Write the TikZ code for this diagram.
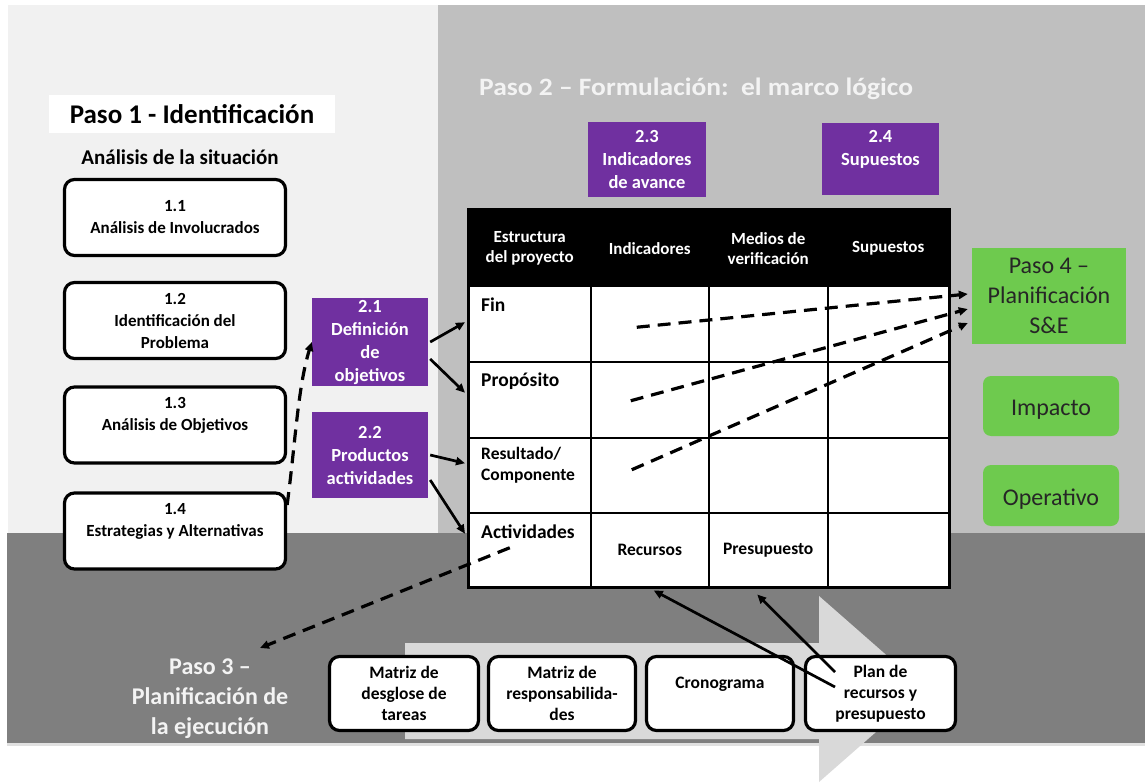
\documentclass[tikz,border=0pt]{standalone}
\usepackage{fontspec}
\usepackage{graphicx}
\setmainfont{Carlito}
\usetikzlibrary{arrows.meta,calc}
\definecolor{lightbg}{RGB}{241,241,241}
\definecolor{midbg}{RGB}{191,191,191}
\definecolor{darkbg}{RGB}{127,127,127}
\definecolor{arrowbg}{RGB}{217,217,217}
\definecolor{purp}{RGB}{112,48,160}
\definecolor{grn}{RGB}{110,202,78}
\definecolor{titlewhite}{RGB}{243,243,243}
\newcommand{\fsz}[2]{\fontsize{#1}{#2}\selectfont}
\begin{document}
\begin{tikzpicture}[x=1pt,y=-1pt,
  sitbox/.style={draw=black,line width=3.2pt,rounded corners=10pt,fill=white,minimum width=221pt,minimum height=76pt,inner sep=0pt,align=center,font=\fsz{17}{22}\bfseries},
  btmbox/.style={draw=black,line width=3.2pt,rounded corners=10pt,fill=white,minimum height=74pt,inner sep=0pt,align=center,font=\fsz{17.5}{21}\bfseries},
  purpbox/.style={fill=purp,text=white,inner sep=0pt,align=center,font=\fsz{18.5}{23}\bfseries},
  grnbox/.style={fill=grn,text=black!85,inner sep=0pt,align=center,font=\fsz{24}{30}},
  grnround/.style={grnbox,rounded corners=8pt,minimum width=136pt,text height=20pt,text depth=0.5pt},
  cell/.style={draw=black,line width=1.5pt,fill=white,inner sep=0pt,anchor=north west},
  hdr/.style={draw=black,line width=1.5pt,fill=black,text=white,inner sep=0pt,anchor=north west,align=center,minimum height=77pt,font=\fsz{17}{20}\bfseries},
  rowlbl/.style={inner sep=0pt,anchor=west,align=left},
  solidarr/.style={line width=2.7pt,-{Triangle[length=9pt,width=8pt]}},
  dasharr/.style={line width=3.2pt,dash pattern=on 13pt off 8pt,-{Triangle[length=9pt,width=8pt]}}
]
\useasboundingbox (0,0) rectangle (1145,783);
% backgrounds
\fill[white] (0,0) rectangle (1145,783);
\fill[lightbg] (8,5) rectangle (438,533);
\fill[midbg] (438,5) rectangle (1145,533);
\fill[darkbg] (7,533) rectangle (1145,743);
\fill[black!12] (7,743) rectangle (1145,746);
\fill[arrowbg] (405,643) -- (819,643) -- (819,596) -- (925,689) -- (819,782) -- (819,739) -- (405,739) -- cycle;

% Paso 1
\node[fill=white,minimum width=286pt,minimum height=38pt,inner sep=0pt,font=\fsz{27}{30}\bfseries] (p1) at (192,114) {Paso 1 - Identificación};
\node[inner sep=0pt,font=\fsz{21}{24}\bfseries] (sit) at (180,157) {Análisis de la situación};
\node[sitbox] (s11) at (175,217.5) {1.1\\Análisis de Involucrados};
\node[sitbox] (s12) at (175,320.5) {1.2\\Identificación del\\Problema};
\node[sitbox] (s13) at (175,425) {1.3\\Análisis de Objetivos\\\mbox{}};
\node[sitbox] (s14) at (175,531) {1.4\\Estrategias y Alternativas\\\mbox{}};

% Paso 2
\node[anchor=west,inner sep=0pt,text=titlewhite,font=\fsz{25}{28}\bfseries] (p2) at (479,89) {\scalebox{1.1}[1]{Paso 2 -- Formulación:\ \ el marco\ lógico}};
\node[purpbox,minimum width=116pt,minimum height=88pt] (d21) at (370,342) {2.1\\Definición\\de\\objetivos};
\node[purpbox,minimum width=116pt,minimum height=86pt] (d22) at (370,455) {2.2\\Productos\\actividades};
\node[purpbox,minimum width=118pt,minimum height=75pt] (d23) at (647,160) {2.3\\Indicadores\\de avance};
\node[purpbox,minimum width=117pt,minimum height=72pt] (d24) at (880.5,159) {2.4\\Supuestos\\\mbox{}};

% table
\node[hdr,minimum width=122pt] (h1) at (468,209) {Estructura\\del proyecto};
\node[hdr,minimum width=118pt] (h2) at (590,209) {Indicadores};
\node[hdr,minimum width=119pt] (h3) at (708,209) {Medios de\\verificación};
\node[hdr,minimum width=121pt] (h4) at (827,209) {Supuestos};
\foreach \x/\w [count=\i] in {468/122,590/118,708/119,827/121} {
  \foreach \y/\h [count=\j] in {286/75,361/76,437/75,512/74} {
    \node[cell,minimum width=\w pt,minimum height=\h pt] (c\j\i) at (\x,\y) {};
  }
}
\draw[line width=2pt] (h1.north west) rectangle (c44.south east);
\node[rowlbl,font=\fsz{19.5}{22}\bfseries] (lfin) at ($(c11.north west)+(13,19)$) {Fin};
\node[rowlbl,font=\fsz{19.5}{22}\bfseries] (lpro) at ($(c21.north west)+(13,20)$) {Propósito};
\node[rowlbl,font=\fsz{17.5}{21}\bfseries] (lres) at ($(c31.north west)+(13,28.5)$) {Resultado/\\Componente};
\node[rowlbl,font=\fsz{19.5}{22}\bfseries] (lact) at ($(c41.north west)+(13,20)$) {Actividades};
\node[inner sep=0pt,font=\fsz{17.5}{21}\bfseries] (lrec) at ($(c42.center)+(0,0)$) {Recursos};
\node[inner sep=0pt,font=\fsz{17.5}{21}\bfseries] (lpre) at ($(c43.center)+(0,0)$) {Presupuesto};

% Paso 4
\node[grnbox,minimum width=154pt,minimum height=96pt] (p4) at (1049,296) {Paso 4 --\\Planificación\\S\&E};
\node[grnround,minimum height=60pt] (imp) at (1051,406) {Impacto};
\node[grnround,minimum height=61pt] (ope) at (1051,495.5) {Operativo};

% Paso 3
\node[inner sep=0pt,align=center,text=titlewhite,font=\fsz{24}{30}\bfseries] (p3) at (210,699) {Paso 3 --\\Planificación de\\la ejecución};
\node[btmbox,minimum width=149pt] (b1) at (404,693.5) {Matriz de\\desglose de\\tareas};
\node[btmbox,minimum width=147pt] (b2) at (562,693.5) {Matriz de\\responsabilida-\\des};
\node[btmbox,minimum width=147pt] (b3) at (720,693.5) {Cronograma\\\mbox{}};
\node[btmbox,minimum width=150pt] (b4) at (880.5,693.5) {Plan de\\recursos y\\presupuesto};

% connectors
\draw[solidarr] ($(d21.east)+(2,0)$) -- ($(c11.west)+(-3,-2)$);
\draw[solidarr] ($(d21.east)+(2,17)$) -- ($(c21.west)+(-3,-7)$);
\draw[solidarr] ($(d22.east)+(2,0)$) -- ($(c31.west)+(-3,-12)$);
\draw[solidarr] ($(d22.east)+(2,25)$) -- ($(c41.west)+(-3,-16)$);
\draw[dasharr] ($(s14.east)+(0,-26)$) .. controls ($(s14.east)+(8,-85)$) and ($(d21.west)+(-14,45)$) .. (d21.west);
\coordinate (sf) at ($(c12.center)+(-13,3)$);
\coordinate (sp) at ($(c22.center)+(-19,1)$);
\coordinate (sr) at ($(c32.center)+(-18,-5.5)$);
\draw[dasharr] (sf) -- ($(p4.west)+(-4,-2)$);
\draw[dasharr] (sp) -- ($(p4.west)+(-4,13)$);
\draw[dasharr] (sr) -- ($(p4.west)+(-4,27)$);
\draw[dasharr] ($(c41.center)+(-20,-2)$) -- ($(p3.center)+(50,-51)$);
\draw[solidarr] ($(b4.center)+(-45.5,-6.5)$) -- ($(c42.south)+(4,3)$);
\draw[solidarr] ($(b4.center)+(-45.5,-21.5)$) -- ($(c43.south)+(-11,7)$);
\end{tikzpicture}
\end{document}
